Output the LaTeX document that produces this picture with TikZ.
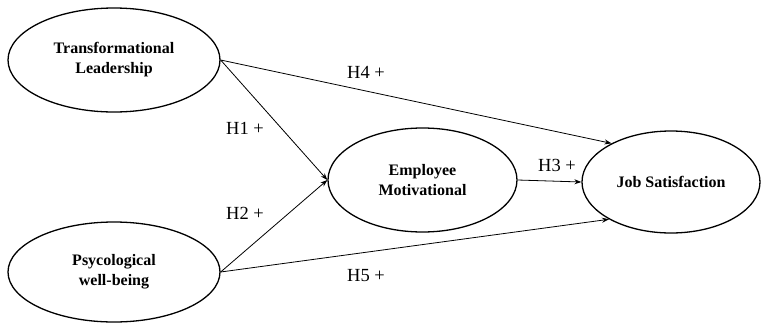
\documentclass[tikz,border=0pt]{standalone}
\usepackage{fontspec}
\setmainfont{Liberation Serif}
\usetikzlibrary{shapes.geometric,arrows.meta}
\tikzset{
  construct/.style={ellipse,draw,line width=1.3pt,inner sep=0pt,
    align=center,font=\fontsize{16}{20}\selectfont\bfseries},
  hyp/.style={font=\fontsize{18.5}{20}\selectfont,inner sep=0pt},
  path/.style={->,line width=0.8pt},
  >={Stealth[length=7pt,width=5pt]}
}
\begin{document}
\begin{tikzpicture}[x=1pt,y=-1pt]
      \useasboundingbox (0,0) rectangle (761,322);
      \node[construct,minimum width=212pt,minimum height=104pt] (tl) at (114,60) {Transformational\\Leadership};
      \node[construct,minimum width=212pt,minimum height=100pt] (pw) at (114,272) {Psycological\\well-being};
      \node[construct,minimum width=189pt,minimum height=104pt] (em) at (422.5,180) {Employee\\Motivational};
      \node[construct,minimum width=178pt,minimum height=102pt] (js) at (671,182) {Job Satisfaction};
      \node[hyp] (h1) at (245,128) {H1 +};
      \node[hyp] (h2) at (245,213) {H2 +};
      \node[hyp] (h3) at (557,165) {H3 +};
      \node[hyp] (h4) at (366,72) {H4 +};
      \node[hyp] (h5) at (366,276) {H5 +};
      \begin{scope}[path]
        \draw (tl.east) to (em.west);
        \draw (pw.east) to (em.west);
        \draw (em.east) to (js.west);
        \draw (tl.east) to (js.147);
        \draw (pw.east) to (js.-149);
      \end{scope}
    \end{tikzpicture}
\end{document}
